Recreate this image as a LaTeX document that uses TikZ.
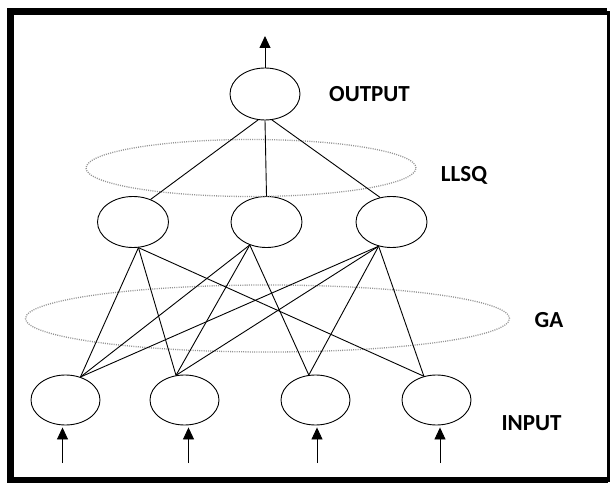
\documentclass[tikz,border=0pt]{standalone}
\usepackage{fontspec}
\setmainfont{Carlito}
\usetikzlibrary{shapes.geometric,arrows.meta}

\begin{document}
\begin{tikzpicture}[x=1pt, y=1pt,
    neuron/.style = {draw, ellipse, line width=0.9pt, inner sep=0pt},
    ring/.style   = {draw=gray!85, line width=1.3pt, dash pattern=on 1pt off 1.2pt},
    lbl/.style    = {font=\fontsize{23}{27}\selectfont\bfseries},
    link/.style   = {line width=0.9pt},
    feed/.style   = {line width=0.9pt, -{Triangle[length=12pt, width=11pt]}}]
  \useasboundingbox (0,0) rectangle (612,482);
  \draw[line width=7pt] (10.5,2) -- (10.5,470.5) -- (607,470.5);
  \draw[line width=3pt] (608,470.5) -- (608,0);
  \draw[line width=6pt] (7,2) -- (608,2);

  % layers
  \node[neuron, minimum width=70pt, minimum height=52pt] at (265,388) (out) {};

  \node[neuron, minimum width=71pt, minimum height=51pt] at (133,260)   (h1) {};
  \node[neuron, minimum width=71pt, minimum height=51pt] at (266.5,260) (h2) {};
  \node[neuron, minimum width=71pt, minimum height=51pt] at (391.5,260) (h3) {};

  \node[neuron, minimum width=69pt, minimum height=50pt] at (65.5,82)  (i1) {};
  \node[neuron, minimum width=69pt, minimum height=50pt] at (184.5,82) (i2) {};
  \node[neuron, minimum width=69pt, minimum height=50pt] at (315.5,82) (i3) {};
  \node[neuron, minimum width=69pt, minimum height=50pt] at (436.5,82) (i4) {};

  % training groups
  \draw[ring] (251,314)   ellipse [x radius=165pt, y radius=28.5pt];
  \draw[ring] (267.5,163.5) ellipse [x radius=242pt, y radius=33.5pt];

  \node[lbl] at (369.5,387.5) (tout)  {OUTPUT};
  \node[lbl] at (464,306.5)   (tllsq) {LLSQ};
  \node[lbl] at (549,162)     (tga)   {GA};
  \node[lbl] at (531.5,58.5)  (tin)   {INPUT};

  % output layer
  \coordinate (top) at (265,446);
  \draw[feed] (out.north) -- (top);
  \draw[link] (out.-105) -- (h1.52);
  \draw[link] (out.south) -- (h2.north);
  \draw[link] (out.-75) -- (h3.115);

  % hidden to input
  \draw[link] (h1.-78) -- (i1.57);
  \draw[link] (h1.-78) -- (i2.109);
  \draw[link] (h1.-78) -- (i4.118);
  \draw[link] (h2.-126) -- (i1.57);
  \draw[link] (h2.-126) -- (i2.109);
  \draw[link] (h2.-126) -- (i3.105);
  \draw[link] (h3.-118) -- (i1.57);
  \draw[link] (h3.-118) -- (i2.109);
  \draw[link] (h3.-118) -- (i3.105);
  \draw[link] (h3.-118) -- (i4.118);

  % inputs
  \coordinate (s1) at (62.5,19);
  \coordinate (s2) at (188.5,19);
  \coordinate (s3) at (317,19);
  \coordinate (s4) at (440,19);
  \foreach \k in {1,2,3,4}
    \draw[feed, shorten >=2pt] (s\k) -- (s\k |- i\k.south);
\end{tikzpicture}
\end{document}
